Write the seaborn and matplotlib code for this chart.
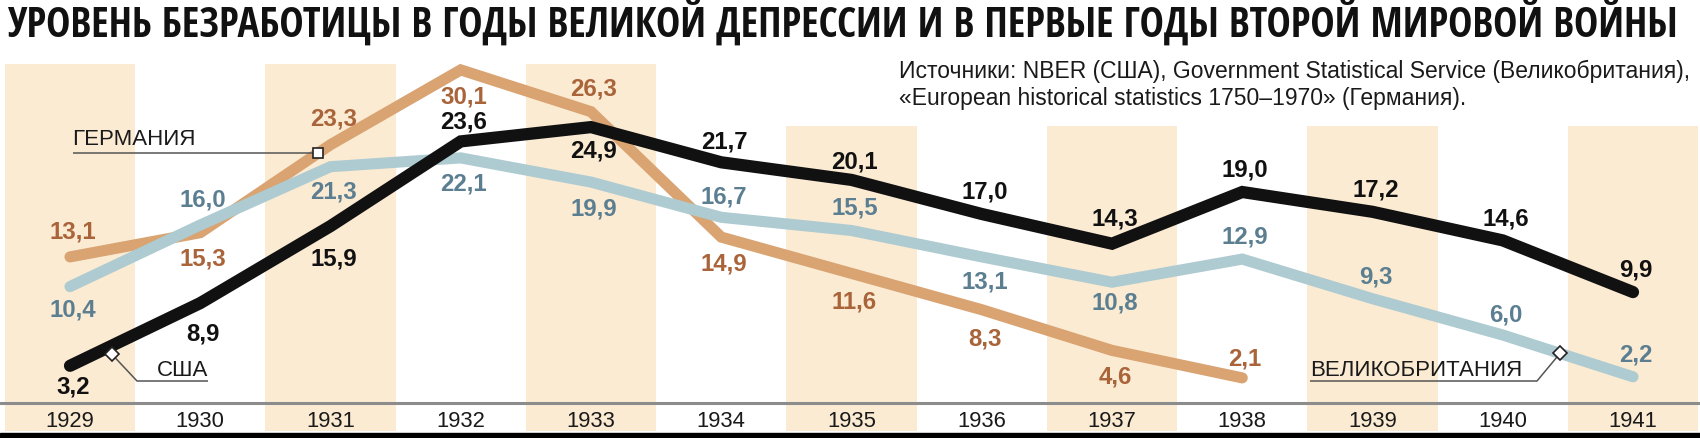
import numpy as np
import pandas as pd
import matplotlib
matplotlib.use("Agg")
import matplotlib.pyplot as plt
import seaborn as sns
from matplotlib.patches import Rectangle
from matplotlib import font_manager as fm

# ---------------- data ----------------
years = list(range(1929, 1942))
usa = [3.2, 8.9, 15.9, 23.6, 24.9, 21.7, 20.1, 17.0, 14.3, 19.0, 17.2, 14.6, 9.9]
uk = [10.4, 16.0, 21.3, 22.1, 19.9, 16.7, 15.5, 13.1, 10.8, 12.9, 9.3, 6.0, 2.2]
germany = [13.1, 15.3, 23.3, 30.1, 26.3, 14.9, 11.6, 8.3, 4.6, 2.1]
germany_years = years[:len(germany)]

title = "УРОВЕНЬ БЕЗРАБОТИЦЫ В ГОДЫ ВЕЛИКОЙ ДЕПРЕССИИ И В ПЕРВЫЕ ГОДЫ ВТОРОЙ МИРОВОЙ ВОЙНЫ"
source_lines = ["Источники: NBER (США), Government Statistical Service (Великобритания),",
                "«European historical statistics 1750–1970» (Германия)."]
name_de, name_us, name_uk = "ГЕРМАНИЯ", "США", "ВЕЛИКОБРИТАНИЯ"

# label placement (pixel offsets of label centre from the point, up = positive)
de_off = [28, -23, 29, -24, 26, -24, -26, -26, -24, 22]
uk_off = [-20, 28, -22, -23, -24, 23, 25, -22, -18, 25, 25, 23, 25]
us_off = [-18, -28, -30, 22, -21, 23, 21, 25, 28, 25, 25, 24, 25]

# ---------------- style ----------------
sns.set_style("white")
plt.rcParams["font.family"] = ["Liberation Sans", "DejaVu Sans"]

# pick a condensed bold face for the title if one is installed
installed = {f.name for f in fm.fontManager.ttflist}
TITLE_FAMILY = ["Liberation Sans", "DejaVu Sans"]
TITLE_STRETCH = "normal"
for cand in ["Liberation Sans Narrow", "Open Sans Condensed", "DejaVu Sans Condensed"]:
    if cand in installed:
        TITLE_FAMILY = [cand, "DejaVu Sans"]
        break
else:
    condensed = [f for f in fm.fontManager.ttflist
                 if f.name in ("Open Sans", "DejaVu Sans", "Noto Sans", "Roboto")
                 and str(f.stretch) in ("condensed", "semi-condensed", "75", "87", "62")]
    if condensed:
        TITLE_FAMILY = [condensed[0].name, "DejaVu Sans"]
        TITLE_STRETCH = "condensed"

BAND = "#FBEBD3"
DE_LINE, DE_TEXT = "#D9A372", "#A9643A"
UK_LINE, UK_TEXT = "#AECBD1", "#5B7F91"
US_LINE, US_TEXT = "#111111", "#111111"

W, H = 1700, 439
fig = plt.figure(figsize=(W / 100, H / 100), dpi=100)
fig.patch.set_facecolor("white")

# axes geometry (pixels)
TOP_PX, BOT_PX = 65, 432
Y0_PX, PY_U = 402, 11.0
X0, PX_U = 1928.4626, 130.25

ax = fig.add_axes([0, (H - BOT_PX) / H, 1, (BOT_PX - TOP_PX) / H])
ax.set_xlim(X0, X0 + W / PX_U)
ax.set_ylim((Y0_PX - BOT_PX) / PY_U, (Y0_PX - TOP_PX) / PY_U)
ax.axis("off")


def xd(px):
    return X0 + px / PX_U


def yd(py):
    return (Y0_PX - py) / PY_U


# alternating bands
ylo, yhi = ax.get_ylim()
for yr in years[::2]:
    top_px = TOP_PX if yr <= 1933 else 127
    frac = (yd(top_px) - ylo) / (yhi - ylo)
    ax.axvspan(yr - 0.5, yr + 0.5, ymin=0, ymax=frac, color=BAND, lw=0, zorder=0)

# baseline
ax.axhline(yd(404), color="#8c8c8c", lw=2.2, zorder=1)

# bottom black bar
fig.patches.append(Rectangle((0, 0), 1, 5.5 / H, transform=fig.transFigure,
                             color="black", zorder=10))

# ---------------- lines ----------------
df_de = pd.DataFrame({"year": germany_years, "value": germany})
df_uk = pd.DataFrame({"year": years, "value": uk})
df_us = pd.DataFrame({"year": years, "value": usa})

common = dict(solid_capstyle="round", solid_joinstyle="miter", legend=False)
sns.lineplot(data=df_de, x="year", y="value", ax=ax, color=DE_LINE, lw=8.0, zorder=2, **common)
sns.lineplot(data=df_uk, x="year", y="value", ax=ax, color=UK_LINE, lw=8.0, zorder=3, **common)
sns.lineplot(data=df_us, x="year", y="value", ax=ax, color=US_LINE, lw=8.8, zorder=4, **common)
ax.set_xlim(X0, X0 + W / PX_U)
ax.set_ylim(ylo, yhi)
ax.axis("off")

# ---------------- value labels ----------------
LBL_FS = 17.3
CAP_HALF = 8.5  # px


def fmt(v):
    return f"{v:.1f}".replace(".", ",")


def put_labels(xs, vs, offs, color):
    for x, v, o in zip(xs, vs, offs):
        ax.annotate(fmt(v), (x, v), xytext=(3 * 0.72, (o - CAP_HALF) * 0.72),
                    textcoords="offset points", ha="center", va="baseline",
                    fontsize=LBL_FS, fontweight="bold", color=color, zorder=8)


put_labels(germany_years, germany, de_off, DE_TEXT)
put_labels(years, uk, uk_off, UK_TEXT)
put_labels(years, usa, us_off, US_TEXT)

# year labels
for yr in years:
    ax.text(yr, yd(420 + 7.5), str(yr), ha="center", va="baseline",
            fontsize=15.8, color="#1a1a1a", zorder=8)

# ---------------- series name callouts ----------------
LEAD = dict(color="#555555", lw=1.1, zorder=6, solid_capstyle="butt")
NAME_FS = 16

# Germany
gx = xd(318)
gy = np.interp(gx, germany_years, germany)
ax.plot([xd(73), gx], [gy, gy], **LEAD)
ax.plot([gx], [gy], marker="s", ms=7.5, mfc="white", mec="#222222", mew=1.2, zorder=7)
ax.text(xd(72), gy + 9 / PY_U, name_de, ha="left", va="baseline",
        fontsize=NAME_FS, color="#1a1a1a", zorder=8)

# USA
ux = xd(112)
uy = np.interp(ux, years, usa) - 0.8
ax.plot([ux, xd(137), xd(208)], [uy, yd(382), yd(382)], **LEAD)
ax.plot([ux], [uy], marker="D", ms=7, mfc="white", mec="#222222", mew=1.2, zorder=7)
ax.text(xd(208), yd(376), name_us, ha="right", va="baseline",
        fontsize=NAME_FS, color="#1a1a1a", zorder=8)

# UK
bx = xd(1560)
by = np.interp(bx, years, uk)
ax.plot([bx, xd(1537), xd(1310)], [by, yd(382), yd(382)], **LEAD)
ax.plot([bx], [by], marker="D", ms=7, mfc="white", mec="#222222", mew=1.2, zorder=7)
ax.text(xd(1310), yd(376), name_uk, ha="left", va="baseline",
        fontsize=NAME_FS, color="#1a1a1a", zorder=8)

# ---------------- title & source ----------------
renderer = fig.canvas.get_renderer()


def fit_width(t, target):
    bb = t.get_window_extent(renderer)
    t.set_fontsize(t.get_fontsize() * target / bb.width)


t_title = fig.text(7 / W, 1 - 37 / H, title, ha="left", va="baseline",
                   fontsize=28, fontweight="bold", color="#111111",
                   family=TITLE_FAMILY, fontstretch=TITLE_STRETCH)
fit_width(t_title, 1678)

s1 = fig.text(899 / W, 1 - 78 / H, source_lines[0], ha="left", va="baseline",
              fontsize=14, color="#1a1a1a")
fit_width(s1, 797)
s2 = fig.text(899 / W, 1 - 105 / H, source_lines[1], ha="left", va="baseline",
              fontsize=s1.get_fontsize(), color="#1a1a1a")

fig.savefig("out.png", dpi=100, facecolor="white")
